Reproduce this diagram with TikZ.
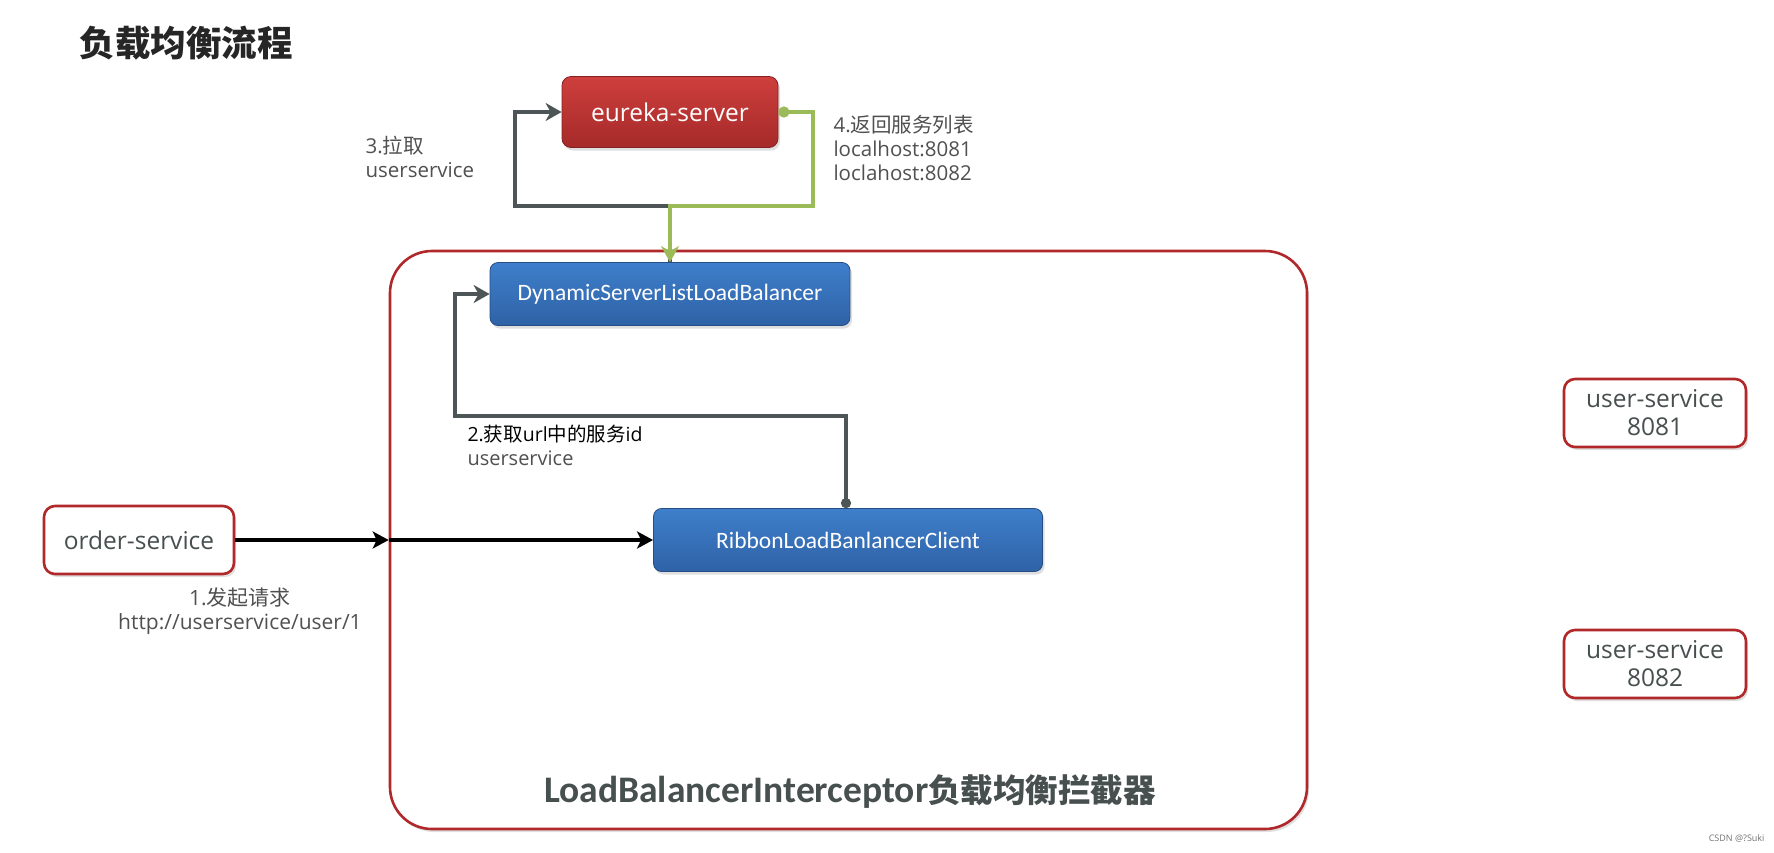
\documentclass[tikz,border=0pt]{standalone}
\usepackage{fontspec}
\setmainfont{Open Sans}
\newfontfamily\cjk{Noto Sans CJK SC}
\newfontfamily\calfont{Carlito}
\usetikzlibrary{arrows.meta,shadows}

\definecolor{framered}{HTML}{B0282A}
\definecolor{eurtop}{HTML}{CE3F3D}
\definecolor{eurbot}{HTML}{A52A29}
\definecolor{bluetop}{HTML}{3E7FCB}
\definecolor{bluebot}{HTML}{2F62A6}
\definecolor{loopgray}{HTML}{4D5557}
\definecolor{backgreen}{HTML}{9BBB59}
\definecolor{txtgray}{HTML}{474F4F}
\definecolor{lblgray}{HTML}{505050}

\tikzset{
  boxshadow/.style={drop shadow={opacity=0.25, shadow xshift=2pt, shadow yshift=-3pt}},
  eurbox/.style={rectangle, rounded corners=9pt, draw=eurbot!80!black, line width=0.8pt,
    top color=eurtop, bottom color=eurbot, text=white, boxshadow,
    minimum width=216pt, minimum height=71pt, font=\fontsize{24.5}{29}\selectfont},
  lbbox/.style={rectangle, rounded corners=8pt, draw=bluebot!80!black, line width=0.8pt,
    top color=bluetop, bottom color=bluebot, text=white, boxshadow,
    minimum height=63pt, font=\calfont\fontsize{23.5}{28}\selectfont},
  svcbox/.style={rectangle, rounded corners=11pt, draw=framered, line width=2.6pt,
    fill=white, text=txtgray, boxshadow, align=center,
    minimum width=182pt, minimum height=68pt, font=\fontsize{24.5}{28}\selectfont},
  lbl/.style={text=lblgray, align=left, font=\fontsize{20.5}{24}\selectfont},
  loopline/.style={draw=loopgray, line width=3.6pt,
    -{Stealth[length=16pt, width=18pt, inset=5pt]}},
  backline/.style={draw=backgreen, line width=3.6pt,
    {Circle[length=11pt]}-{Stealth[length=16pt, width=18pt, inset=5pt]}},
  reqline/.style={draw=black, line width=3.6pt,
    -{Stealth[length=16pt, width=17pt, inset=4pt]}}
}

\begin{document}
\begin{tikzpicture}[x=1pt, y=-1pt]
\useasboundingbox (0,0) rectangle (1774,852);

% title
\node[anchor=west, text=black!85, font=\cjk\bfseries\fontsize{35.5}{40}\selectfont] (title) at (76,43) {负载均衡流程};

% interceptor frame
\node[rectangle, rounded corners=42pt, draw=framered, line width=2.6pt, boxshadow, fill=white,
  minimum width=917pt, minimum height=578pt] (lbi) at (848.5,540) {};
\node[text=txtgray] (lbilabel) at (850,792)
  {{\calfont\bfseries\fontsize{37.5}{40}\selectfont LoadBalancerInterceptor}{\cjk\bfseries\fontsize{32.5}{36}\selectfont 负载均衡拦截器}};

% boxes
\node[eurbox] (eureka) at (670,112) {eureka-server};
\node[lbbox, minimum width=360pt] (dynlb) at (670,294) {DynamicServerListLoadBalancer};
\node[lbbox, minimum width=389pt] (ribbon) at (848,540) {RibbonLoadBanlancerClient};
\node[svcbox, minimum width=190pt] (order) at (139,540) {order-service};
\node[svcbox] (user1) at (1655,413) {user-service\\8081};
\node[svcbox] (user2) at (1655,664) {user-service\\8082};

% 1. request
\draw[reqline] (order) -- (lbi.west);
\draw[reqline] (lbi.west) -- (ribbon);
\node[lbl, align=center, font=\fontsize{21}{24}\selectfont] (reqlbl) at (240,611) {1.{\cjk 发起请求}\\http://userservice/user/1};

% 2. service id
\draw[loopline, {Circle[length=10pt]}-{Stealth[length=16pt, width=18pt, inset=5pt]}]
  (ribbon.north -| 846,0) -- (846,416) -- (455,416) -- (455,294) -- (dynlb.west);
\node[anchor=west, align=left, font=\fontsize{19.5}{24}\selectfont] (idlbl) at (464,445)
  {2.{\cjk 获取}url{\cjk 中的服务}id\\{\color{lblgray}\fontsize{20}{22}\selectfont userservice}};

% 3. pull
\draw[loopline] (dynlb.north) -- (670,206) -- (515,206) -- (515,112) -- (eureka.west);
\node[lbl, anchor=west] (pulllbl) at (362,157) {3.{\cjk 拉取}\\userservice};

% 4. service list
\draw[backline] (eureka.east) -- (813,112) -- (813,206) -- (670,206) -- (dynlb.north);
\node[lbl, anchor=west] (listlbl) at (830,148) {4.{\cjk 返回服务列表}\\localhost:8081\\loclahost:8082};

% watermark
\node[anchor=east, text=black!55, font=\fontsize{9}{10}\selectfont] (mark) at (1768,838) {CSDN @?Suki};
\end{tikzpicture}
\end{document}
